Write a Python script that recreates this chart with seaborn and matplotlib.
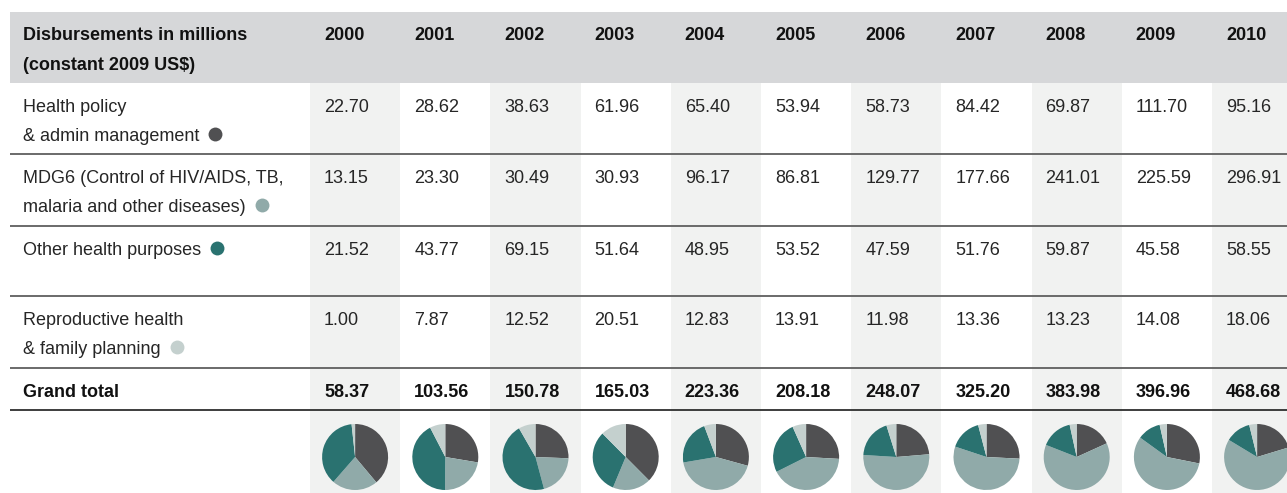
import matplotlib
matplotlib.use('Agg')
import matplotlib.pyplot as plt
from matplotlib.patches import Rectangle
from matplotlib import font_manager
import numpy as np
import pandas as pd
import seaborn as sns

# ---- data (constant 2009 US$, millions) ----
years = ['2000', '2001', '2002', '2003', '2004', '2005', '2006', '2007', '2008', '2009', '2010']
health_policy = [22.70, 28.62, 38.63, 61.96, 65.40, 53.94, 58.73, 84.42, 69.87, 111.70, 95.16]
mdg6 = [13.15, 23.30, 30.49, 30.93, 96.17, 86.81, 129.77, 177.66, 241.01, 225.59, 296.91]
other_health = [21.52, 43.77, 69.15, 51.64, 48.95, 53.52, 47.59, 51.76, 59.87, 45.58, 58.55]
reproductive = [1.00, 7.87, 12.52, 20.51, 12.83, 13.91, 11.98, 13.36, 13.23, 14.08, 18.06]
grand_total = [58.37, 103.56, 150.78, 165.03, 223.36, 208.18, 248.07, 325.20, 383.98, 396.96, 468.68]

header_label = ['Disbursements in millions', '(constant 2009 US$)']
row_labels = [['Health policy', '& admin management'],
              ['MDG6 (Control of HIV/AIDS, TB,', 'malaria and other diseases)'],
              ['Other health purposes'],
              ['Reproductive health', '& family planning']]
total_label = 'Grand total'

df = pd.DataFrame({'health_policy': health_policy, 'mdg6': mdg6,
                   'other_health': other_health, 'reproductive': reproductive},
                  index=years)
series = ['health_policy', 'mdg6', 'other_health', 'reproductive']

sns.set_theme(style='white')
# condensed face if the narrow Liberation cut is installed
installed = {f.name for f in font_manager.fontManager.ttflist}
narrow = 'Liberation Sans Narrow' in installed
plt.rcParams['font.family'] = (['Liberation Sans Narrow'] if narrow else []) + ['Liberation Sans', 'DejaVu Sans']
fs = 15 if narrow else 13
palette = sns.color_palette(['#505052', '#90aaa9', '#2a7270', '#c4d0ce'])

# ---- layout (pixels) ----
W, H = 1287, 493
left = 10
col0 = 310
col_w = 90.2
pad = 14
header_top, header_bot = 12, 83
row_tops = [83, 154, 226, 296, 368]
row_lines = [154, 226, 296, 368, 410]
first_base = 29
line_step = 29
pie_r = 33
pie_cy = 457
txt_col = '#262626'
bold_col = '#111111'

fig = plt.figure(figsize=(W / 100, H / 100), dpi=100)
ax = fig.add_axes([0, 0, 1, 1])
ax.set_xlim(0, W)
ax.set_ylim(H, 0)
ax.axis('off')

# header band + shaded columns
ax.add_patch(Rectangle((left, header_top), W - left, header_bot - header_top,
                       color='#d6d7d9', lw=0, zorder=0))
for i in range(len(years)):
    if i % 2 == 0:
        ax.add_patch(Rectangle((col0 + i * col_w, header_bot), col_w, H - header_bot,
                               color='#f1f2f1', lw=0, zorder=0))

# row rules
ax.hlines(row_lines[:-1], left, W, color='#5f5f5f', lw=1.3, zorder=1)
ax.hlines(row_lines[-1], left, W, color='#2e2e2e', lw=1.3, zorder=1)

# header text
for k, line in enumerate(header_label):
    ax.text(23, header_top + 28 + k * 30, line, fontsize=fs, fontweight='bold',
            color=bold_col, va='baseline')
for i, yr in enumerate(years):
    ax.text(col0 + i * col_w + pad, header_top + 28, yr, fontsize=fs,
            fontweight='bold', color=bold_col, va='baseline')

# category rows
last_lines = []
for r, (s, lines) in enumerate(zip(series, row_labels)):
    top = row_tops[r]
    t = None
    for k, line in enumerate(lines):
        t = ax.text(23, top + first_base + k * line_step, line, fontsize=fs,
                    color=txt_col, va='baseline')
    last_lines.append(t)
    for i, yr in enumerate(years):
        ax.text(col0 + i * col_w + pad, top + first_base, f'{df.loc[yr, s]:.2f}',
                fontsize=fs, color=txt_col, va='baseline')

# grand total row
top = row_tops[4]
ax.text(23, top + first_base, total_label, fontsize=fs, fontweight='bold',
        color=bold_col, va='baseline')
for i, v in enumerate(grand_total):
    ax.text(col0 + i * col_w + pad, top + first_base, f'{v:.2f}', fontsize=fs,
            fontweight='bold', color=bold_col, va='baseline')

# legend dots after each label
fig.canvas.draw()
renderer = fig.canvas.get_renderer()
for t, c in zip(last_lines, palette):
    bb = t.get_window_extent(renderer)
    y_base = t.get_position()[1]
    ax.scatter(bb.x1 + 16, y_base - 7, s=100, color=c, lw=0, zorder=3)

# pies
for i, yr in enumerate(years):
    cx = col0 + i * col_w + col_w / 2
    rect = [(cx - pie_r) / W, (H - pie_cy - pie_r) / H, 2 * pie_r / W, 2 * pie_r / H]
    pax = fig.add_axes(rect)
    pax.pie(df.loc[yr, series].values, colors=palette, startangle=90,
            counterclock=False, wedgeprops=dict(linewidth=0))
    pax.set_xlim(-1, 1)
    pax.set_ylim(-1, 1)
    pax.set_aspect('equal')
    pax.axis('off')

fig.savefig('out.png', dpi=100)
